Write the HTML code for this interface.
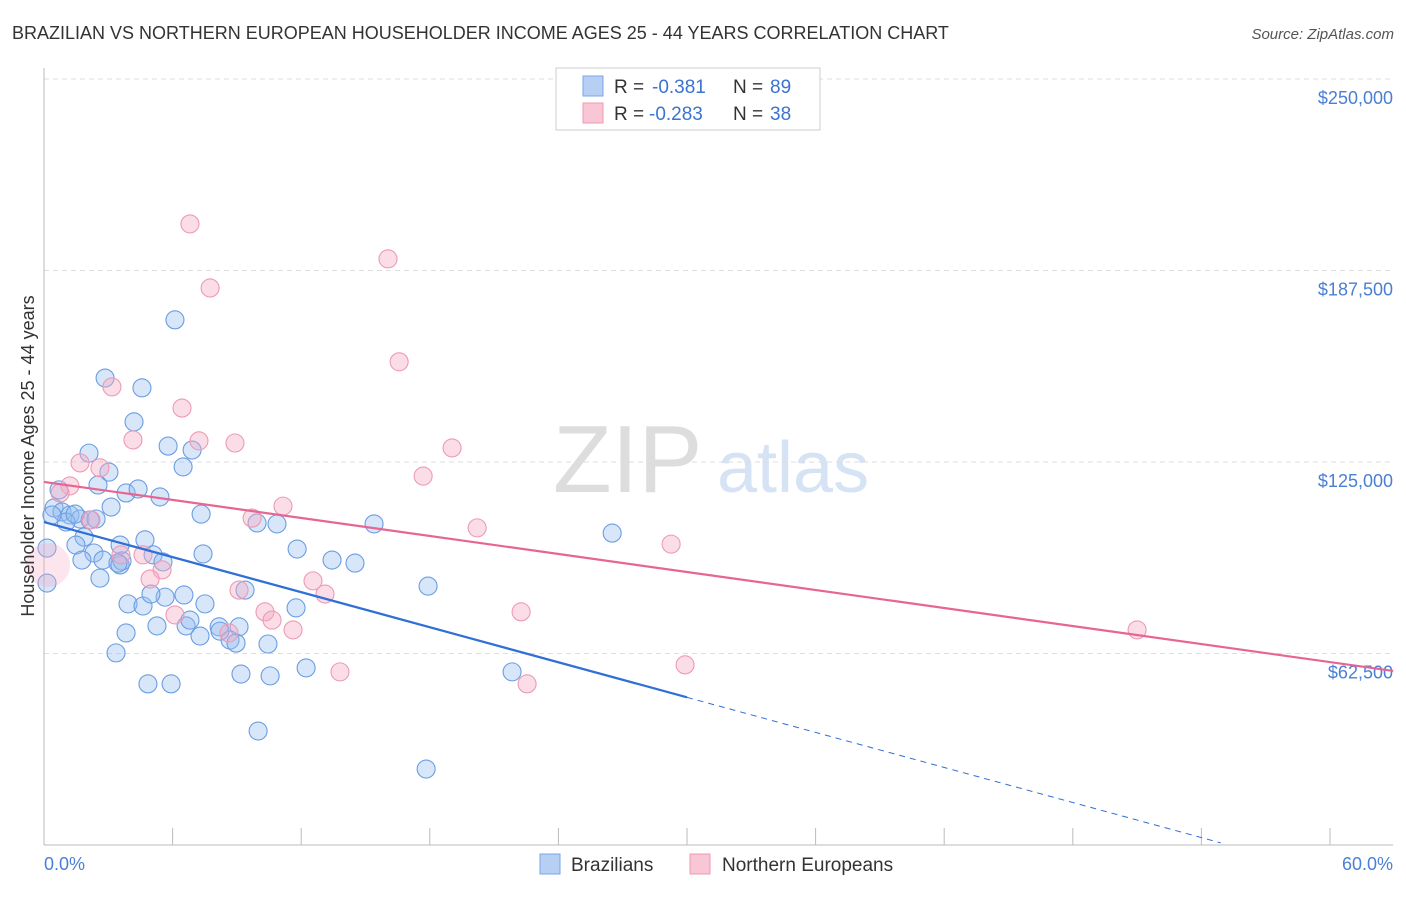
<!DOCTYPE html>
<html><head><meta charset="utf-8"><style>
body{margin:0;background:#fff;font-family:"Liberation Sans",sans-serif}
svg text{font-family:"Liberation Sans",sans-serif}
</style></head><body>
<svg id="chart" width="1406" height="892" viewBox="0 0 1406 892">
<text x="12" y="39" font-size="18" fill="#333">BRAZILIAN VS NORTHERN EUROPEAN HOUSEHOLDER INCOME AGES 25 - 44 YEARS CORRELATION CHART</text>
<text x="1394" y="39" font-size="15" fill="#555" text-anchor="end" font-style="italic">Source: ZipAtlas.com</text>
<g>
<text x="553" y="492" font-size="96" fill="#ddd" font-family="Liberation Serif,serif">ZIP</text>
<text x="717" y="492" font-size="72" fill="#d5e3f5">atlas</text>
</g>
<g id="grid"></g>
<g id="axes"></g>
<g id="marks"></g>
<g id="trend"></g>
<text transform="translate(34,456) rotate(-90)" font-size="18" fill="#333" text-anchor="middle">Householder Income Ages 25 - 44 years</text>
<text x="44" y="870" font-size="18" fill="#4a7fd6">0.0%</text>
<text x="1393" y="870" font-size="18" fill="#4a7fd6" text-anchor="end">60.0%</text>
<g>
<rect x="556" y="68" width="264" height="62" fill="#fff" stroke="#ccc"/>
<rect x="583" y="76" width="20" height="20" fill="#b6cff3" stroke="#7aa6e8"/>
<rect x="583" y="103" width="20" height="20" fill="#f8c6d5" stroke="#ee9ab4"/>
<text x="614" y="93" font-size="19" fill="#333">R =</text>
<text x="652" y="93" font-size="19" fill="#3b73d1">-0.381</text>
<text x="733" y="93" font-size="19" fill="#333">N =</text>
<text x="770" y="93" font-size="19" fill="#3b73d1">89</text>
<text x="614" y="120" font-size="19" fill="#333">R =</text>
<text x="649" y="120" font-size="19" fill="#3b73d1">-0.283</text>
<text x="733" y="120" font-size="19" fill="#333">N =</text>
<text x="770" y="120" font-size="19" fill="#3b73d1">38</text>
</g>
<g>
<rect x="540" y="854" width="20" height="20" fill="#b6cff3" stroke="#7aa6e8"/>
<text x="571" y="871" font-size="19" fill="#333">Brazilians</text>
<rect x="690" y="854" width="20" height="20" fill="#f8c6d5" stroke="#ee9ab4"/>
<text x="722" y="871" font-size="19" fill="#333">Northern Europeans</text>
</g>
</svg>
<script>
const yTicks=[62500,125000,187500,250000];
const yTickLabels=["$62,500","$125,000","$187,500","$250,000"];
const xTicks=[0,6,12,18,24,30,36,42,48,54,60];
const blueX=[2.85,4.57,6.11,4.20,5.79,6.91,6.49,2.10,3.03,2.52,3.83,4.39,5.41,0.70,0.47,0.84,1.21,1.68,2.15,2.43,1.03,1.45,0.37,3.13,4.71,5.09,3.55,1.87,1.49,2.33,1.77,2.75,3.55,3.64,3.45,5.55,2.61,3.92,4.62,5.65,6.53,7.51,4.99,6.63,5.27,3.83,3.36,4.85,5.93,8.17,9.10,7.28,8.68,8.96,9.38,7.33,7.42,9.94,10.87,11.81,11.76,10.45,9.19,10.55,12.23,9.99,13.44,14.51,15.40,17.92,17.83,21.84,26.51,0.14,0.14,8.21,6.81];
const blueY=[152.4,149.2,171.4,138.1,130.2,128.9,123.4,127.9,121.7,117.5,114.9,116.2,113.6,115.9,110.0,108.7,107.7,106.4,106.1,106.4,105.4,108.0,107.7,110.3,99.6,94.7,97.9,100.5,97.9,95.3,93.0,93.0,91.4,92.7,92.0,92.4,87.1,78.7,78.0,80.9,81.6,78.7,81.9,71.5,71.5,69.2,62.7,52.6,52.6,71.2,71.2,68.2,66.9,65.9,83.2,108.0,95.0,105.1,104.8,96.6,77.4,65.6,55.8,55.2,57.8,37.2,93.0,92.0,104.8,84.5,24.8,56.5,101.8,96.9,85.5,69.8,73.4];
const pinkX=[6.81,7.75,16.05,16.57,3.17,6.44,4.15,7.23,8.91,1.68,2.61,1.21,0.75,2.19,19.04,17.69,11.15,9.71,20.21,29.26,3.59,4.62,5.51,4.95,9.10,12.55,13.11,10.31,22.26,6.11,10.64,11.62,8.63,13.81,22.54,29.91,51.00,0.19];
const pinkY=[202.7,181.8,191.3,157.7,149.5,142.6,132.2,131.9,131.2,124.7,123.1,117.2,114.9,106.1,129.6,120.4,110.6,106.7,103.5,98.2,94.7,94.7,89.8,86.8,83.2,86.2,81.9,76.1,76.1,75.1,73.4,70.2,69.2,56.5,52.6,58.8,70.2,91.4];
const blueTrend=[105.4,-1.907];
const pinkTrend=[118.5,-0.98];
const NS="http://www.w3.org/2000/svg";
const sx=v=>44+v/60*1286;
const sy=v=>845-v/62.5*191.5;
function mk(t,a,p){const e=document.createElementNS(NS,t);for(const k in a)e.setAttribute(k,a[k]);p.appendChild(e);return e;}
const grid=document.getElementById('grid'),axes=document.getElementById('axes'),marks=document.getElementById('marks'),trend=document.getElementById('trend');
yTicks.forEach((v,i)=>{
 const l=mk('line',{x1:44,x2:1393,y1:sy(v/1000),y2:sy(v/1000),stroke:'#ddd','stroke-dasharray':'5,4'},grid);
 
 
 const t=mk('text',{x:1393,y:sy(v/1000)+25,'font-size':18,fill:'#4a7fd6','text-anchor':'end'},grid);
 t.textContent=yTickLabels[i];
 
 
});
const ya=mk('line',{x1:44,x2:44,y1:68,y2:845,stroke:'#bbb'},axes);


const xa=mk('line',{x1:44,x2:1393,y1:845,y2:845,stroke:'#bbb'},axes);


xTicks.forEach(v=>{
 const l=mk('line',{x1:sx(v),x2:sx(v),y1:828,y2:845,stroke:'#bbb'},axes);
 
 
});
blueX.forEach((x,i)=>{
 const c=mk('circle',{cx:sx(x),cy:sy(blueY[i]),r:9,fill:'rgba(150,188,238,0.38)',stroke:'#6b9de3','stroke-width':1.1},marks);
 
 
});
pinkX.forEach((x,i)=>{
 const big=i==pinkX.length-1;
 const c=mk('circle',{cx:sx(x),cy:sy(pinkY[i]),r:big?22:9,fill:big?'rgba(245,170,195,0.3)':'rgba(245,170,195,0.4)',stroke:big?'none':'#ee9ab4','stroke-width':1.1},marks);
 
 
});
const b1=mk('line',{x1:sx(0),y1:sy(blueTrend[0]),x2:sx(30),y2:sy(blueTrend[0]+blueTrend[1]*30),stroke:'#2f6fd6','stroke-width':2.2},trend);


const b2=mk('line',{x1:sx(30),y1:sy(blueTrend[0]+blueTrend[1]*30),x2:sx(54.9),y2:sy(blueTrend[0]+blueTrend[1]*54.9),stroke:'#2f6fd6','stroke-width':1,'stroke-dasharray':'6,5'},trend);


const p1=mk('line',{x1:sx(0),y1:sy(pinkTrend[0]),x2:sx(62.95),y2:sy(pinkTrend[0]+pinkTrend[1]*62.95),stroke:'#e66592','stroke-width':2.2},trend);


</script>
</body></html>
